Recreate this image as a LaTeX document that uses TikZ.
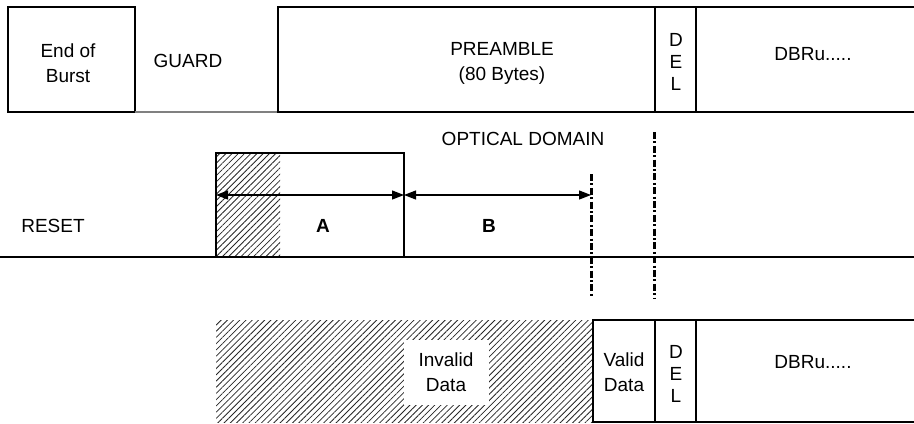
\documentclass[tikz,border=0pt]{standalone}
\usepackage{fontspec}
\setmainfont{Liberation Sans}
\usetikzlibrary{positioning, arrows.meta, patterns.meta}

\tikzset{
  lbl/.style={align=center, font=\fontsize{9.5}{12.5}\selectfont, inner sep=1pt},
  hatch/.style={pattern={Lines[angle=45,distance=2.2pt,line width=0.4pt]}, pattern color=black!85},
  frame/.style={draw, line width=0.9pt},
  marker/.style={line width=1.5pt, dash pattern=on 3.5pt off 1.2pt on 1pt off 1.2pt},
  span/.style={{Triangle[length=6pt,width=4.5pt]}-{Triangle[length=6pt,width=4.5pt]}, line width=0.6pt},
}

\begin{document}
\begin{tikzpicture}[x=0.5pt, y=-0.5pt]
  \useasboundingbox (0,0) rectangle (914,423);

  % upstream burst
  \draw[frame] (8,7) rectangle (135,112);
  \draw[gray, line width=0.9pt] (135,112) -- (278,112);
  \draw[frame] (278,7) rectangle (655,112);
  \draw[frame] (655,7) rectangle (696,112);
  \draw[frame] (914,7) -- (696,7) -- (696,112) -- (914,112);
  \node[lbl] (eob) at (68,63) {End of\\Burst};
  \node[lbl] (guard) at (188,61) {GUARD};
  \node[lbl] (pre) at (502,63) {PREAMBLE\\(80 Bytes)};
  \node[lbl, font=\fontsize{9.5}{11}\selectfont] (del) at (676,62) {D\\E\\L};
  \node[lbl] (dbru) at (813,54) {DBRu.....};

  % reset pulse
  \node[lbl] (optical) at (523,139) {OPTICAL DOMAIN};
  \node[lbl] (reset) at (53,226) {RESET};
  \fill[hatch] (216,153) rectangle (280,257);
  \draw[frame] (216,257) |- (404,153) -- (404,257);
  \draw[frame] (0,257) -- (914,257);
  \coordinate (aL) at (216,195);
  \coordinate (aM) at (404,195);
  \coordinate (aR) at (591,195);
  \draw[span] (aL) -- (aM);
  \draw[span] (aM) -- (aR);
  \node[lbl, font=\fontsize{9.5}{11}\selectfont\bfseries] (lblA) at (323,226) {A};
  \node[lbl, font=\fontsize{9.5}{11}\selectfont\bfseries] (lblB) at (489,226) {B};
  \draw[marker] (591,174) -- (591,298);
  \draw[marker] (654,132) -- (654,298);

  % received data
  \fill[hatch] (216,320) rectangle (593,422);
  \node[lbl, fill=white, minimum width=42.5pt, minimum height=32.5pt] (invalid) at (446,372) {Invalid\\Data};
  \draw[frame] (593,320) rectangle (655,422);
  \draw[frame] (655,320) rectangle (696,422);
  \draw[frame] (914,320) -- (696,320) -- (696,422) -- (914,422);
  \node[lbl] (valid) at (624,372) {Valid\\Data};
  \node[lbl, font=\fontsize{9.5}{11}\selectfont] (del2) at (676,374) {D\\E\\L};
  \node[lbl] (dbru2) at (813,362) {DBRu.....};
\end{tikzpicture}
\end{document}
